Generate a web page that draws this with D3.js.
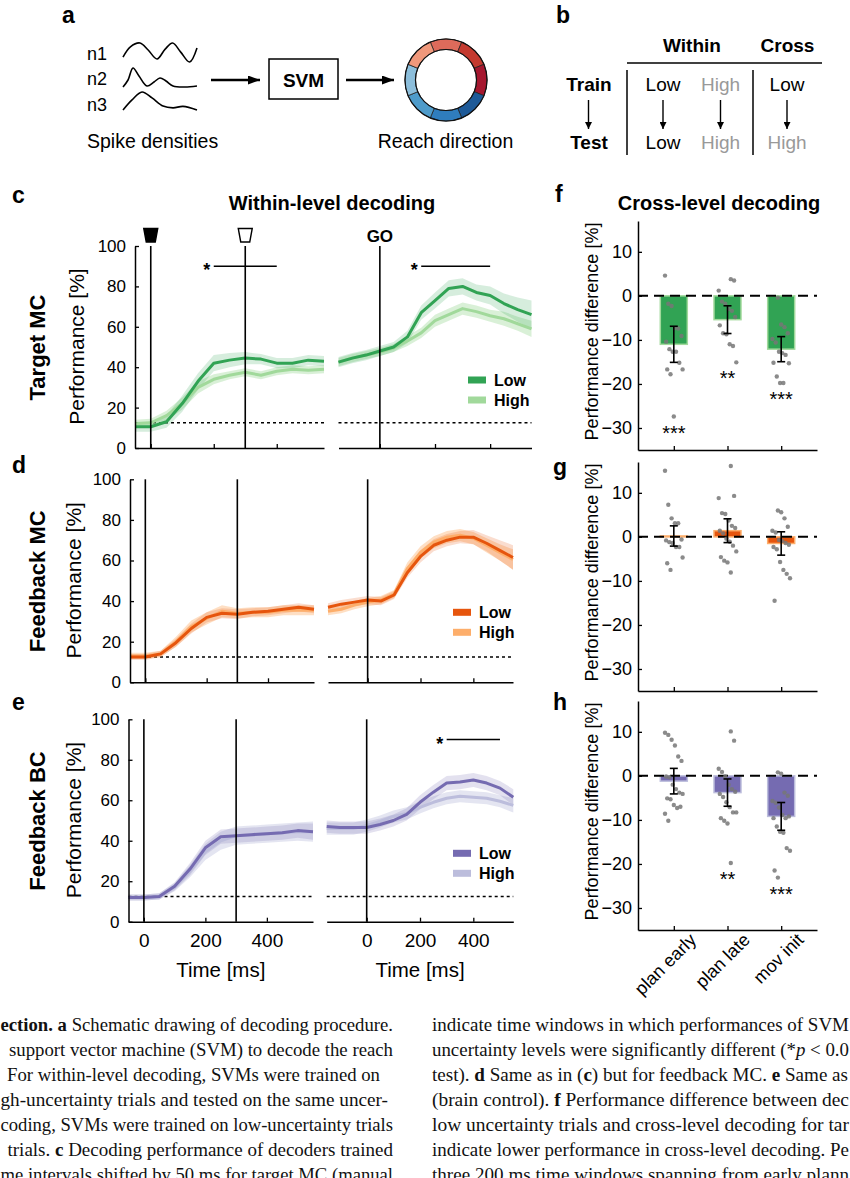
<!DOCTYPE html>
<html>
<head>
<meta charset="utf-8">
<script src="https://d3js.org/d3.v7.min.js"></script>
<style>
  body { margin: 0; background: #fff; }
  svg { display: block; font-family: "Liberation Sans", Arial, sans-serif; }
</style>
</head>
<body>
<div id="fig"></div>
<script>
//---------------- data ----------------
// time bases (ms) for the cue-aligned and GO-aligned windows
var timeCue = [-50, 0, 50, 100, 150, 200, 250, 300, 350, 400, 450, 500, 550];
var timeGo = [-150, -100, -50, 0, 50, 100, 150, 200, 250, 300, 350, 400, 450, 500, 550];
var chanceLevel = 12.5;

// c: target MC
var targetCueLow = [10.5, 10.5, 13, 22, 33, 42, 43.5, 44.5, 44, 42, 42, 43.5, 43];
var targetCueLowErr = [2.5, 2.5, 3, 4, 4, 4, 3.5, 3, 2.5, 2.5, 2.5, 2.5, 2.5];
var targetCueHigh = [12, 12.5, 16, 22, 30, 34, 36, 37.5, 36, 38, 39, 38.5, 39];
var targetCueHighErr = [2, 2, 2.5, 3, 3, 2.5, 2, 2, 2, 2, 2, 2, 2];
var targetGoLow = [42.5, 44.5, 46, 48, 50, 55, 67, 73, 79, 80, 77, 75.5, 71.5, 68.5, 66];
var targetGoLowErr = [2.5, 2.5, 2.5, 2.5, 2.5, 3, 3.5, 4, 4, 4, 4, 4.5, 5, 6, 7];
var targetGoHigh = [42.5, 44.5, 46, 47.5, 49.5, 53, 57, 63, 66, 69, 67.5, 65.5, 64, 61.5, 59];
var targetGoHighErr = [2, 2, 2, 2, 2, 2.5, 2.5, 3, 3, 3, 3, 3, 3.5, 3.5, 4];
var targetSigCue = [200, 400];
var targetSigGo = [150, 400];

// d: feedback MC
var fbmcCueLow = [12.5, 12.5, 14, 19.5, 26.5, 32, 34, 33.5, 34.5, 35, 36, 37, 36];
var fbmcCueLowErr = [1.5, 1.5, 1.5, 2, 2.5, 2.5, 2.5, 2.5, 2, 2, 2, 2, 2];
var fbmcCueHigh = [13, 13, 14, 20, 27.5, 31.5, 35, 34, 34.5, 34.5, 35.5, 35.5, 35.5];
var fbmcCueHighErr = [1.5, 1.5, 1.5, 2.5, 3, 3, 3, 2.5, 2.5, 2.5, 2.5, 2.5, 2.5];
var fbmcGoLow = [37, 38.5, 39.5, 40.5, 40, 43, 54, 62, 67.5, 70, 71.5, 71.5, 68.5, 65, 61.5];
var fbmcGoLowErr = [2, 2, 2, 2, 2, 2, 2.5, 3, 3, 3, 3, 3.5, 4, 5, 6];
var fbmcGoHigh = [35, 36, 38, 39.5, 40.5, 43.5, 56, 64, 69, 71.5, 72.5, 71, 67.5, 64, 60.5];
var fbmcGoHighErr = [2, 2, 2, 2, 2, 2, 3, 3, 3, 3, 3, 3, 3.5, 4, 5];

// e: feedback BC
var fbbcCueLow = [12, 12, 12.5, 17.5, 26, 36.5, 42, 42.5, 43, 43.5, 44, 45, 44.5];
var fbbcCueLowErr = [1.5, 1.5, 1.5, 2, 3, 3.5, 3.5, 3.5, 3.5, 3.5, 3.5, 3.5, 4];
var fbbcCueHigh = [12, 12, 12.5, 17, 25, 34.5, 40, 42.5, 43, 43.5, 44, 44.5, 44.5];
var fbbcCueHighErr = [1.5, 1.5, 1.5, 2, 3, 4, 4.5, 4.5, 4.5, 4.5, 4.5, 4.5, 5];
var fbbcGoLow = [47, 46.5, 46.5, 46.5, 48, 50, 53, 59, 64, 68.5, 69, 70, 68.5, 66, 61.5];
var fbbcGoLowErr = [3, 3, 3, 3, 3, 3, 3, 3.5, 3.5, 3.5, 3.5, 3.5, 3.5, 3.5, 4];
var fbbcGoHigh = [46, 46, 46, 47.5, 49.5, 52, 53.5, 56.5, 59, 61, 62, 61.5, 61, 59.5, 57.5];
var fbbcGoHighErr = [3, 3, 3, 3, 3, 3, 3, 3, 3, 3, 3, 3, 3, 3, 3.5];
var fbbcSigGo = [300, 500];

// f-h: cross-level decoding, performance difference [%]
var windows = ["plan early", "plan late", "mov init"];
var targetDiff = [-11, -5.4, -12.1];
var targetDiffErr = [4.1, 3.15, 2.85];
var targetStars = ["***", "**", "***"];
var targetDots = [
  [4.6, -1.8, -2.3, -7.3, -7.4, -9.1, -10.4, -12.1, -12.7, -12.7, -15.2, -16.7, -16.7, -17.8, -27.4],
  [3.8, 3.5, 1.2, -1.3, -1.8, -3, -3.4, -4.8, -6.7, -8.5, -8.7, -11, -11.4, -15.1],
  [-0.4, -6.5, -7.1, -8.5, -9.8, -10.6, -12.7, -13, -13.4, -15.3, -15.2, -18.3, -19.8, -19.8]
];
var fbmcDiff = [0.2, 1.4, -1.5];
var fbmcDiffErr = [2.3, 2.7, 2.65];
var fbmcStars = ["", "", ""];
var fbmcDots = [
  [15, 7.3, 4.2, 3.1, 3.1, -0.6, -0.8, -1.2, -1.4, -2.3, -2.3, -4.7, -6, -7.5],
  [16.1, 9.3, 8.8, 5.4, 5.2, 3.7, 2.5, 2, 1.4, 0.8, -0.4, -1.1, -2, -3.3, -4.6, -5.4, -5.8, -8.1],
  [6, 5.6, 4.2, 2.3, 1.4, 1, -0.7, -0.9, -1.4, -1.8, -2.3, -2.8, -5.7, -7.5, -8.4, -9.4, -14.5]
];
var fbbcDiff = [-1.2, -3.8, -9.2];
var fbbcDiffErr = [2.9, 3.1, 3.15];
var fbbcStars = ["", "**", "***"];
var fbbcDots = [
  [9.8, 9.3, 8.2, 6.9, 4.4, 3.4, -0.15, -0.3, -2, -3, -3.8, -4.1, -5.1, -5.3, -6.6, -7.3, -7, -8.6, -10.2],
  [10.1, 8, 1.6, 0.9, -0.15, -2, -3, -3.6, -4.1, -4.8, -6, -7.1, -8.3, -8.3, -9.6, -10.2, -10.8, -19.8],
  [0.8, 0.5, -3.8, -4.5, -5.7, -6.1, -7.2, -8.9, -9.6, -9.2, -9.6, -11.5, -12.7, -12.9, -16.4, -17, -21.5, -23.1]
];

// a: schematic spike density traces, [relative time, relative rate]
var traceN1 = [[0, 0.26], [0.1, 0.8], [0.23, 1], [0.34, 0.63], [0.46, 0.16], [0.57, 0.68], [0.67, 1], [0.78, 0.52], [0.9, 0], [1, 0.74]];
var traceN2 = [[0, 0.05], [0.068, 0.4], [0.135, 1], [0.216, 0.6], [0.324, 0.1], [0.419, 0.3], [0.5, 0.5], [0.581, 0.35], [0.676, 0.1], [0.838, 0.05], [1, 0.1]];
var traceN3 = [[0, 0], [0.122, 0.56], [0.257, 1], [0.392, 0.67], [0.541, 0.22], [0.676, 0.12], [0.811, 0.2], [1, 0]];
var traceNames = ["n1", "n2", "n3"];
var directionColors = ["#dd6b5b", "#c43a2f", "#a5172f", "#1e5a98", "#2f7dbd", "#4e9bca", "#8cbedb", "#f0987b"];

// caption fragments: [text, style]  (b = bold, i = italic)
var captionLeft = [
  [["ection. a", "b"], [" Schematic drawing of decoding procedure.", ""]],
  [["support vector machine (SVM) to decode the reach", ""]],
  [["For within-level decoding, SVMs were trained on", ""]],
  [["gh-uncertainty trials and tested on the same uncer-", ""]],
  [["coding, SVMs were trained on low-uncertainty trials", ""]],
  [["trials. ", ""], ["c", "b"], [" Decoding performance of decoders trained", ""]],
  [["me intervals shifted by 50 ms for target MC (manual", ""]]
];
var captionLeftSpan = [[0.5, 393], [9, 393], [7, 380], [0.5, 388], [0.5, 393], [7.5, 393], [0.5, 393]];
var captionRight = [
  [["indicate time windows in which performances of SVM", ""]],
  [["uncertainty levels were significantly different (*", ""], ["p", "i"], [" < 0.0", ""]],
  [["test). ", ""], ["d", "b"], [" Same as in (", ""], ["c", "b"], [") but for feedback MC. ", ""], ["e", "b"], [" Same as", ""]],
  [["(brain control). ", ""], ["f", "b"], [" Performance difference between dec", ""]],
  [["low uncertainty trials and cross-level decoding for tar", ""]],
  [["indicate lower performance in cross-level decoding. Pe", ""]],
  [["three 200 ms time windows spanning from early plann", ""]]
];
var captionRightSpan = [[432, 849], [432, 849], [432, 848], [432, 849], [432, 849], [432, 849], [432, 849]];

//---------------- svg ----------------
var width = 850,
  height = 1178;

var svg = d3
  .select("#fig")
  .append("svg")
  .attr("width", width)
  .attr("height", height);

var defs = svg.append("defs");
function addArrowMarker(id, len, wid) {
  defs
    .append("marker")
    .attr("id", id)
    .attr("viewBox", "0 0 " + len + " " + wid)
    .attr("refX", len)
    .attr("refY", wid / 2)
    .attr("markerWidth", len)
    .attr("markerHeight", wid)
    .attr("markerUnits", "userSpaceOnUse")
    .attr("orient", "auto")
    .append("path")
    .attr("d", "M0,0L" + len + "," + wid / 2 + "L0," + wid + "Z")
    .attr("fill", "#000");
}
addArrowMarker("arrowBig", 12, 9);
addArrowMarker("arrowSmall", 7, 7);

function panelLetter(ch, x, y) {
  svg
    .append("text")
    .attr("x", x)
    .attr("y", y)
    .attr("font-size", 23)
    .attr("font-weight", "bold")
    .text(ch);
}

//---------------- a: schematic ----------------
panelLetter("a", 62, 23);

var traceX = d3.scaleLinear().domain([0, 1]).range([123, 197]);
var traceBoxes = [[62, 43], [88, 68], [110, 92]];
[traceN1, traceN2, traceN3].forEach(function (tr, i) {
  var ty = d3.scaleLinear().domain([0, 1]).range(traceBoxes[i]);
  svg
    .append("path")
    .attr("d", d3.line().curve(d3.curveCatmullRom)
      .x(function (d) { return traceX(d[0]); })
      .y(function (d) { return ty(d[1]); })(tr))
    .attr("fill", "none")
    .attr("stroke", "#000")
    .attr("stroke-width", 1.6);
  svg
    .append("text")
    .attr("x", 87)
    .attr("y", [60, 85, 111][i])
    .attr("font-size", 18)
    .text(traceNames[i]);
});

svg.append("text").attr("x", 87).attr("y", 148).attr("font-size", 19.5).text("Spike densities");

[[211, 260], [346, 394]].forEach(function (a) {
  svg
    .append("line")
    .attr("x1", a[0]).attr("x2", a[1])
    .attr("y1", 80).attr("y2", 80)
    .attr("stroke", "#000")
    .attr("stroke-width", 2.5)
    .attr("marker-end", "url(#arrowBig)");
});

svg.append("rect").attr("x", 269).attr("y", 59).attr("width", 69).attr("height", 40)
  .attr("fill", "none").attr("stroke", "#000").attr("stroke-width", 1.5);
svg.append("text").attr("x", 303.5).attr("y", 86.5).attr("text-anchor", "middle")
  .attr("font-size", 19).attr("font-weight", "bold").text("SVM");

var ring = svg.append("g").attr("transform", "translate(446,80)");
var pie = d3.pie().sort(null).startAngle(-Math.PI / 8).endAngle(2 * Math.PI - Math.PI / 8);
var arc = d3.arc().innerRadius(30.5).outerRadius(41);
ring
  .selectAll("path")
  .data(pie(directionColors.map(function () { return 1; })))
  .enter()
  .append("path")
  .attr("d", arc)
  .attr("fill", function (d, i) { return directionColors[i]; })
  .attr("stroke", "#222")
  .attr("stroke-width", 0.8);
ring.append("circle").attr("r", 41).attr("fill", "none").attr("stroke", "#111").attr("stroke-width", 1.2);
ring.append("circle").attr("r", 30.5).attr("fill", "none").attr("stroke", "#111").attr("stroke-width", 1.2);

svg.append("text").attr("x", 445.5).attr("y", 148).attr("text-anchor", "middle")
  .attr("font-size", 19.5).text("Reach direction");

//---------------- b: train/test table ----------------
panelLetter("b", 556, 23);
var tb = svg.append("g").attr("font-size", 19);
tb.append("text").attr("x", 692).attr("y", 52).attr("text-anchor", "middle").attr("font-weight", "bold").text("Within");
tb.append("text").attr("x", 787.5).attr("y", 52).attr("text-anchor", "middle").attr("font-weight", "bold").text("Cross");
tb.append("line").attr("x1", 627).attr("x2", 822).attr("y1", 63).attr("y2", 63).attr("stroke", "#000").attr("stroke-width", 1.5);
[627, 753].forEach(function (x) {
  tb.append("line").attr("x1", x).attr("x2", x).attr("y1", 70).attr("y2", 155).attr("stroke", "#000").attr("stroke-width", 1.5);
});
tb.append("text").attr("x", 589).attr("y", 91).attr("text-anchor", "middle").attr("font-weight", "bold").text("Train");
tb.append("text").attr("x", 589).attr("y", 148.5).attr("text-anchor", "middle").attr("font-weight", "bold").text("Test");
var tableCols = [588.5, 663, 720.5, 787];
var trainLvl = ["", "Low", "High", "Low"];
var testLvl = ["", "Low", "High", "High"];
tableCols.forEach(function (x, i) {
  tb.append("line").attr("x1", x).attr("x2", x).attr("y1", 100).attr("y2", 129)
    .attr("stroke", "#000").attr("stroke-width", 1.4).attr("marker-end", "url(#arrowSmall)");
  if (i > 0) {
    tb.append("text").attr("x", x).attr("y", 91).attr("text-anchor", "middle")
      .attr("fill", trainLvl[i] == "High" ? "#999" : "#000").text(trainLvl[i]);
    tb.append("text").attr("x", x).attr("y", 148.5).attr("text-anchor", "middle")
      .attr("fill", testLvl[i] == "High" ? "#999" : "#000").text(testLvl[i]);
  }
});

//---------------- c-e: within-level decoding ----------------
function styleAxis(ax, size) {
  ax.select(".domain").attr("stroke", "#000").attr("stroke-width", 1.5);
  ax.selectAll(".tick line").attr("stroke", "#000").attr("stroke-width", 1.3);
  ax.selectAll("text").attr("font-size", size).attr("fill", "#000")
    .attr("font-family", "'Liberation Sans', Arial, sans-serif");
}

function drawSeries(g, x, y, t, low, lowErr, high, highErr, colors) {
  var band = function (errs) {
    return d3.area()
      .x(function (d, i) { return x(t[i]); })
      .y0(function (d, i) { return y(d - errs[i]); })
      .y1(function (d, i) { return y(d + errs[i]); });
  };
  var line = d3.line().x(function (d, i) { return x(t[i]); }).y(function (d) { return y(d); });
  g.append("path").attr("d", band(highErr)(high)).attr("fill", colors.high).attr("opacity", 0.4);
  g.append("path").attr("d", band(lowErr)(low)).attr("fill", colors.low).attr("opacity", 0.2);
  g.append("path").attr("d", line(high)).attr("fill", "none").attr("stroke", colors.high)
    .attr("stroke-width", 3).attr("stroke-linejoin", "round");
  g.append("path").attr("d", line(low)).attr("fill", "none").attr("stroke", colors.low)
    .attr("stroke-width", 3).attr("stroke-linejoin", "round");
}

function drawSig(g, x, y, span) {
  g.append("line").attr("x1", x(span[0])).attr("x2", x(span[1]))
    .attr("y1", y(90)).attr("y2", y(90)).attr("stroke", "#000").attr("stroke-width", 1.5);
  g.append("text").attr("x", x(span[0]) - 7).attr("y", y(90) + 10).attr("text-anchor", "middle")
    .attr("font-size", 18).attr("font-weight", "bold").text("*");
}

function drawTimeRow(p) {
  var g = svg.append("g");
  var y = d3.scaleLinear().domain([0, 100]).range(p.yRange);
  var xc = d3.scaleLinear().domain([-50, 550]).range(p.cueRange);
  var xg = d3.scaleLinear().domain([-150, 550]).range(p.goRange);

  // chance level
  [[xc, p.cueRange], [xg, p.goRange]].forEach(function (s) {
    g.append("line").attr("x1", s[1][0]).attr("x2", s[1][1])
      .attr("y1", y(chanceLevel)).attr("y2", y(chanceLevel))
      .attr("stroke", "#000").attr("stroke-width", 1.5).attr("stroke-dasharray", "3,3");
  });

  drawSeries(g, xc, y, timeCue, p.cueLow, p.cueLowErr, p.cueHigh, p.cueHighErr, p.colors);
  drawSeries(g, xg, y, timeGo, p.goLow, p.goLowErr, p.goHigh, p.goHighErr, p.colors);

  // event lines
  [xc(0), xc(300), xg(0)].forEach(function (x) {
    g.append("line").attr("x1", x).attr("x2", x).attr("y1", y(0)).attr("y2", y(100))
      .attr("stroke", "#000").attr("stroke-width", 1.6);
  });

  // axes
  var yAx = g.append("g").attr("transform", "translate(" + p.cueRange[0] + ",0)")
    .call(d3.axisLeft(y).tickValues([0, 20, 40, 60, 80, 100]).tickSizeInner(-4).tickSizeOuter(0).tickPadding(9));
  styleAxis(yAx, 17);

  [[xc, p.cueRange], [xg, p.goRange]].forEach(function (s) {
    var ax = d3.axisBottom(s[0]).tickValues([0, 200, 400]).tickSizeInner(-4).tickSizeOuter(0).tickPadding(12);
    if (!p.timeLabels) ax.tickFormat("");
    var xAx = g.append("g").attr("transform", "translate(0," + y(0) + ")").call(ax);
    styleAxis(xAx, 19);
    if (p.timeLabels) {
      g.append("text").attr("x", (s[1][0] + s[1][1]) / 2).attr("y", y(0) + 55)
        .attr("text-anchor", "middle").attr("font-size", 20.5).text("Time [ms]");
    }
  });

  if (p.cueSig) drawSig(g, xc, y, p.cueSig);
  if (p.goSig) drawSig(g, xg, y, p.goSig);

  // labels
  var midY = (p.yRange[0] + p.yRange[1]) / 2;
  g.append("text").attr("transform", "translate(" + p.perfX + "," + (midY - 0.5) + ") rotate(-90)")
    .attr("text-anchor", "middle").attr("font-size", 21).text("Performance [%]");
  g.append("text").attr("transform", "translate(45," + (midY + 0.5) + ") rotate(-90)")
    .attr("text-anchor", "middle").attr("font-size", 22).attr("font-weight", "bold").text(p.name);

  // legend
  [["Low", p.colors.low], ["High", p.colors.high]].forEach(function (l, i) {
    var ly = p.legendY + i * 20;
    g.append("rect").attr("x", p.legendX).attr("y", ly - 3.5).attr("width", 18).attr("height", 7).attr("fill", l[1]);
    g.append("text").attr("x", p.legendX + 26).attr("y", ly + 6).attr("font-size", 16)
      .attr("font-weight", "bold").text(l[0]);
  });

  if (p.markers) {
    // target cue (filled) and memory period cue (open) icons
    [[xc(0), "#000"], [xc(300), "#fff"]].forEach(function (m) {
      var cx = m[0];
      g.append("path")
        .attr("d", "M" + (cx - 7) + "," + 228.5 + "L" + (cx + 7) + "," + 228.5 + "L" + (cx + 4.5) + "," + 242 + "L" + (cx - 4.5) + "," + 242 + "Z")
        .attr("fill", m[1]).attr("stroke", "#000").attr("stroke-width", 1.4);
    });
    g.append("text").attr("x", xg(0)).attr("y", 242).attr("text-anchor", "middle")
      .attr("font-size", 17).attr("font-weight", "bold").text("GO");
  }
}

var greens = { low: "#31a354", high: "#a1d99b" };
var oranges = { low: "#e6550d", high: "#fdae6b" };
var purples = { low: "#756bb1", high: "#bcbddc" };

panelLetter("c", 12, 203);
svg.append("text").attr("x", 332).attr("y", 210).attr("text-anchor", "middle")
  .attr("font-size", 20).attr("font-weight", "bold").text("Within-level decoding");
drawTimeRow({
  name: "Target MC", yRange: [448, 246], cueRange: [135, 324], goRange: [338.5, 531.5],
  cueLow: targetCueLow, cueLowErr: targetCueLowErr, cueHigh: targetCueHigh, cueHighErr: targetCueHighErr,
  goLow: targetGoLow, goLowErr: targetGoLowErr, goHigh: targetGoHigh, goHighErr: targetGoHighErr,
  cueSig: targetSigCue, goSig: targetSigGo, colors: greens, perfX: 84,
  legendX: 468, legendY: 380, markers: true, timeLabels: false
});

panelLetter("d", 12, 473);
drawTimeRow({
  name: "Feedback MC", yRange: [682.3, 479.3], cueRange: [130, 314], goRange: [328, 513],
  cueLow: fbmcCueLow, cueLowErr: fbmcCueLowErr, cueHigh: fbmcCueHigh, cueHighErr: fbmcCueHighErr,
  goLow: fbmcGoLow, goLowErr: fbmcGoLowErr, goHigh: fbmcGoHigh, goHighErr: fbmcGoHighErr,
  colors: oranges, perfX: 81, legendX: 453, legendY: 612.3, markers: false, timeLabels: false
});

panelLetter("e", 12, 710);
drawTimeRow({
  name: "Feedback BC", yRange: [921.7, 719.3], cueRange: [128.5, 313], goRange: [326.7, 513.3],
  cueLow: fbbcCueLow, cueLowErr: fbbcCueLowErr, cueHigh: fbbcCueHigh, cueHighErr: fbbcCueHighErr,
  goLow: fbbcGoLow, goLowErr: fbbcGoLowErr, goHigh: fbbcGoHigh, goHighErr: fbbcGoHighErr,
  goSig: fbbcSigGo, colors: purples, perfX: 81, legendX: 453, legendY: 853.3, markers: false, timeLabels: true
});

//---------------- f-h: cross-level decoding ----------------
function drawBarPanel(p) {
  var g = svg.append("g");
  var x = d3.scalePoint().domain(windows).range([638, 817]).padding(0.667);
  var y = d3.scaleLinear().domain([-35, 17]).range(p.yRange);
  var barW = 27;

  g.selectAll("rect.bar")
    .data(p.diff)
    .enter()
    .append("rect")
    .attr("class", "bar")
    .attr("x", function (d, i) { return x(windows[i]) - barW / 2; })
    .attr("width", barW)
    .attr("y", function (d) { return y(Math.max(0, d)); })
    .attr("height", function (d) { return Math.abs(y(d) - y(0)); })
    .attr("fill", p.colors.low)
    .attr("stroke", p.colors.high)
    .attr("stroke-width", 1.5);

  // zero line
  g.append("line").attr("x1", 638).attr("x2", 817).attr("y1", y(0)).attr("y2", y(0))
    .attr("stroke", "#000").attr("stroke-width", 2).attr("stroke-dasharray", "10,6");

  // individual sessions
  p.dots.forEach(function (vals, k) {
    g.selectAll(null)
      .data(vals)
      .enter()
      .append("circle")
      .attr("cx", function (d, i) { return x(windows[k]) + (((i * 37 + k * 11) % 17) - 8) * 1.1; })
      .attr("cy", function (d) { return y(d); })
      .attr("r", 2.2)
      .attr("fill", "#777")
      .attr("opacity", 0.85);
  });

  // error bars
  p.diff.forEach(function (d, i) {
    var cx = x(windows[i]);
    var hi = y(d + p.err[i]), lo = y(d - p.err[i]);
    g.append("line").attr("x1", cx).attr("x2", cx).attr("y1", hi).attr("y2", lo).attr("stroke", "#000").attr("stroke-width", 1.6);
    [hi, lo].forEach(function (yy) {
      g.append("line").attr("x1", cx - 4).attr("x2", cx + 4).attr("y1", yy).attr("y2", yy).attr("stroke", "#000").attr("stroke-width", 1.6);
    });
    if (p.stars[i]) {
      g.append("text").attr("x", cx).attr("y", y(d3.min(p.dots[i])) + 23)
        .attr("text-anchor", "middle").attr("font-size", 20).text(p.stars[i]);
    }
  });

  var yAx = g.append("g").attr("transform", "translate(638,0)")
    .call(d3.axisLeft(y).tickValues([-30, -20, -10, 0, 10]).tickSizeInner(-4).tickSizeOuter(0).tickPadding(6));
  styleAxis(yAx, 18);
  var xa = d3.axisBottom(x).tickSizeInner(-4).tickSizeOuter(0);
  if (!p.catLabels) xa.tickFormat("");
  var xAx = g.append("g").attr("transform", "translate(0," + p.yRange[0] + ")").call(xa);
  styleAxis(xAx, 18);
  if (p.catLabels) {
    xAx.selectAll(".tick text")
      .attr("y", null).attr("dy", null)
      .attr("text-anchor", "end")
      .attr("transform", "translate(23,11) rotate(-45)");
  }

  var midY = (p.yRange[0] + p.yRange[1]) / 2;
  g.append("text").attr("transform", "translate(598," + (midY - 4) + ") rotate(-90)")
    .attr("text-anchor", "middle").attr("font-size", 18).text("Performance difference [%]");
}

panelLetter("f", 555, 202);
svg.append("text").attr("x", 719).attr("y", 210).attr("text-anchor", "middle")
  .attr("font-size", 20).attr("font-weight", "bold").text("Cross-level decoding");
drawBarPanel({ yRange: [450, 221], diff: targetDiff, err: targetDiffErr, dots: targetDots, stars: targetStars, colors: greens, catLabels: false });
panelLetter("g", 553, 475);
drawBarPanel({ yRange: [691, 462], diff: fbmcDiff, err: fbmcDiffErr, dots: fbmcDots, stars: fbmcStars, colors: oranges, catLabels: false });
panelLetter("h", 553, 710);
drawBarPanel({ yRange: [930, 701], diff: fbbcDiff, err: fbbcDiffErr, dots: fbbcDots, stars: fbbcStars, colors: purples, catLabels: true });

//---------------- caption ----------------
// each line is fitted to the span it covers in the printed page
function captionLine(parts, span, y) {
  var t = svg.append("text").attr("x", span[0]).attr("y", y)
    .attr("textLength", span[1] - span[0]).attr("lengthAdjust", "spacingAndGlyphs")
    .attr("font-family", "'Liberation Serif', 'Times New Roman', serif").attr("font-size", 19.3).attr("fill", "#111");
  parts.forEach(function (s) {
    t.append("tspan")
      .attr("font-weight", s[1] == "b" ? "bold" : null)
      .attr("font-style", s[1] == "i" ? "italic" : null)
      .text(s[0]);
  });
}
captionLeft.forEach(function (l, i) { captionLine(l, captionLeftSpan[i], 1030.5 + i * 25.1); });
captionRight.forEach(function (l, i) { captionLine(l, captionRightSpan[i], 1030.5 + i * 25.1); });
</script>
</body>
</html>
